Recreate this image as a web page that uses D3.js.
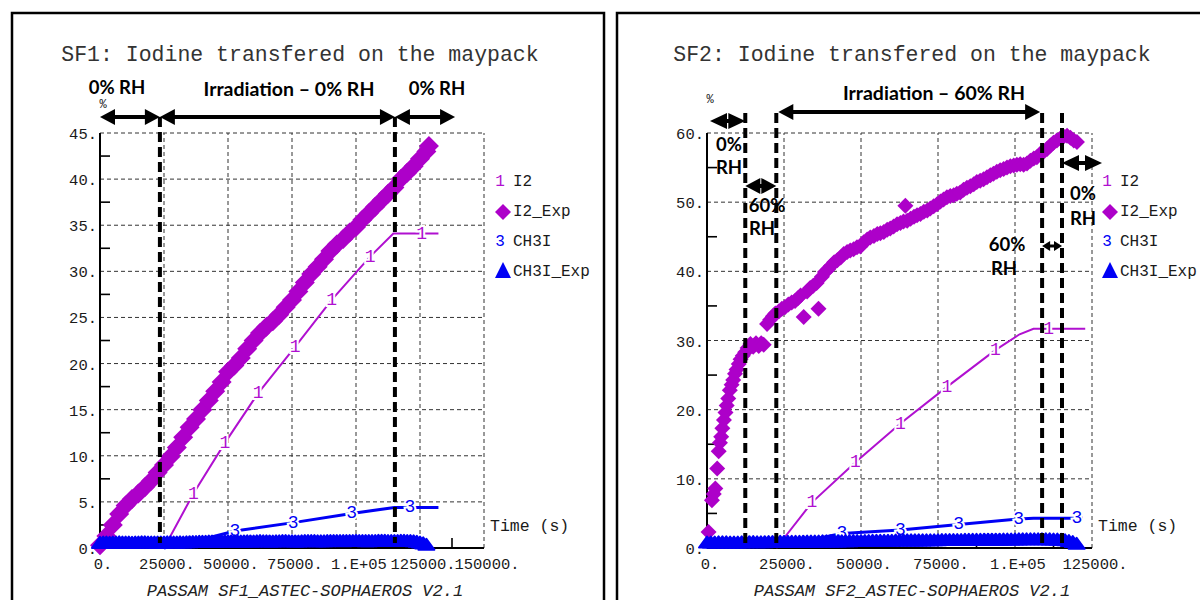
<!DOCTYPE html>
<html>
<head>
<meta charset="utf-8">
<script src="https://cdn.jsdelivr.net/npm/d3@7"></script>
<style>
  body { margin: 0; background: #fff; }
  svg { display: block; }
</style>
</head>
<body>
<div id="chart"></div>
<script>
const sf1XTicks = [0, 25000, 50000, 75000, 100000, 125000, 150000]
const sf1XLabels = ["0.", "25000.", "50000.", "75000.", "1.E+05", "125000.", "150000."]
const sf1YTicks = [0, 5, 10, 15, 20, 25, 30, 35, 40, 45]

const sf2XTicks = [0, 25000, 50000, 75000, 100000, 125000]
const sf2XLabels = ["0.", "25000.", "50000.", "75000.", "1.E+05", "125000."]
const sf2YTicks = [0, 10, 20, 30, 40, 50, 60]

const legendNames = ["I2", "I2_Exp", "CH3I", "CH3I_Exp"]

// SF1 computed curves  [time (s), %]
const sf1I2Model = [[25000, 0], [36500, 5.9], [48800, 11.4], [61800, 16.8], [76200, 21.8],
  [90500, 26.9], [105500, 31.6], [114600, 34.1], [132200, 34.1]]
const sf1I2Marks = [36500, 48800, 61800, 76200, 90500, 105500, 125600]
const sf1Ch3iModel = [[25000, 0], [43600, 1.2], [52700, 1.85], [75500, 2.75], [98300, 3.75],
  [115000, 4.4], [132200, 4.4]]
const sf1Ch3iMarks = [52700, 75500, 98300, 121100]

// SF1 measurements
const sf1I2Exp = [[0, 0.3], [2500, 1.3], [5000, 2.5], [7500, 3.7], [10000, 4.6], [12500, 5.3],
  [15000, 5.9], [17500, 6.6], [20000, 7.3], [22500, 8.2], [25000, 9.0], [27500, 9.9],
  [30000, 10.9], [32500, 12.0], [35000, 13.1], [37500, 14.0], [40000, 15.0], [42500, 16.0],
  [45000, 17.0], [47500, 18.0], [50000, 19.1], [52500, 19.8], [55000, 20.6], [57500, 21.6],
  [60000, 22.5], [62500, 23.3], [65000, 24.0], [67500, 24.6], [70000, 25.3], [72500, 26.1],
  [75000, 26.9], [77500, 27.8], [80000, 28.8], [82500, 29.7], [85000, 30.5], [87500, 31.3],
  [90000, 32.2], [92500, 32.9], [95000, 33.5], [97500, 34.2], [100000, 34.8], [102500, 35.6],
  [105000, 36.3], [107500, 37.0], [110000, 37.7], [112500, 38.4], [115000, 39.1], [117500, 40.0],
  [120000, 40.7], [122500, 41.4], [125000, 42.2], [127500, 43.0], [128500, 43.6]]
const sf1Ch3iExp = [[0, 0.55], [1250, 0.58], [2500, 0.6], [3750, 0.57], [5000, 0.58], [6250, 0.6],
  [7500, 0.62], [8750, 0.6], [10000, 0.6], [11250, 0.58], [12500, 0.57], [13750, 0.59],
  [15000, 0.6], [16250, 0.61], [17500, 0.62], [18750, 0.6], [20000, 0.6], [21250, 0.59],
  [22500, 0.58], [23750, 0.6], [25000, 0.6], [26250, 0.61], [27500, 0.62], [28750, 0.6],
  [30000, 0.6], [31250, 0.61], [32500, 0.6], [33750, 0.62], [35000, 0.63], [36250, 0.64],
  [37500, 0.65], [38750, 0.66], [40000, 0.66], [41250, 0.68], [42500, 0.7], [43750, 0.69],
  [45000, 0.68], [46250, 0.7], [47500, 0.7], [48750, 0.71], [50000, 0.72], [51250, 0.71],
  [52500, 0.7], [53750, 0.7], [55000, 0.7], [56250, 0.71], [57500, 0.72], [58750, 0.71],
  [60000, 0.7], [61250, 0.72], [62500, 0.74], [63750, 0.73], [65000, 0.72], [66250, 0.71],
  [67500, 0.7], [68750, 0.72], [70000, 0.73], [71250, 0.74], [72500, 0.75], [73750, 0.73],
  [75000, 0.72], [76250, 0.71], [77500, 0.7], [78750, 0.72], [80000, 0.74], [81250, 0.75],
  [82500, 0.75], [83750, 0.74], [85000, 0.73], [86250, 0.72], [87500, 0.72], [88750, 0.74],
  [90000, 0.75], [91250, 0.76], [92500, 0.76], [93750, 0.75], [95000, 0.74], [96250, 0.75],
  [97500, 0.75], [98750, 0.76], [100000, 0.77], [101250, 0.76], [102500, 0.75], [103750, 0.74],
  [105000, 0.74], [106250, 0.75], [107500, 0.76], [108750, 0.77], [110000, 0.78], [111250, 0.77],
  [112500, 0.76], [113750, 0.75], [115000, 0.75], [116250, 0.76], [117500, 0.77], [118750, 0.77],
  [120000, 0.76], [121250, 0.75], [122500, 0.72], [123750, 0.68], [125000, 0.6], [126250, 0.5],
  [127500, 0.35]]

// SF2 computed curves
const sf2I2Model = [[22500, 0], [34100, 6.6], [48200, 12.4], [62800, 18.0], [77900, 23.3],
  [93600, 28.6], [101500, 30.9], [106000, 31.7], [122800, 31.7]]
const sf2I2Marks = [34100, 48200, 62800, 77900, 93600, 110900]
const sf2Ch3iModel = [[22500, 0.2], [43800, 2.1], [62800, 2.6], [81700, 3.4], [101200, 4.2],
  [106000, 4.3], [122000, 4.3]]
const sf2Ch3iMarks = [43800, 62800, 81700, 101200, 120100]

// SF2 measurements
const sf2I2Exp = [[500, 2.3], [1600, 6.9], [2200, 7.8], [2700, 8.6], [3300, 11.5], [3800, 14.0],
  [4200, 15.2], [4600, 16.1], [5000, 17.3], [5500, 18.5], [6000, 19.6], [6400, 20.6],
  [6900, 21.6], [7400, 22.8], [8000, 23.6], [8500, 24.3], [9100, 25.2], [9600, 25.8],
  [10300, 26.6], [10900, 27.3], [11600, 27.8], [12400, 28.3], [13200, 28.9], [14100, 29.5],
  [15000, 29.1], [15900, 29.6], [16800, 29.2], [17600, 29.6], [18400, 29.4], [19500, 32.4],
  [20500, 33.0], [21400, 33.5], [22200, 33.9], [23300, 34.2], [24300, 34.6], [25300, 34.8],
  [26400, 35.2], [27500, 35.5], [28600, 35.7], [29500, 36.1], [30400, 36.5], [31400, 33.4],
  [32500, 37.1], [33500, 37.6], [34500, 37.9], [35600, 38.3], [36200, 34.6], [37300, 39.2],
  [38300, 39.9], [39300, 40.3], [40300, 40.8], [41300, 41.3], [42300, 41.6], [43400, 42.0],
  [44400, 42.5], [45500, 42.8], [46500, 43.0], [47600, 43.2], [48700, 43.5], [49800, 43.6],
  [50900, 44.2], [52000, 44.6], [53000, 44.9], [54200, 45.1], [55300, 45.4], [56300, 45.5],
  [57400, 45.7], [58500, 46.0], [59500, 46.2], [60600, 46.5], [61700, 46.8], [62800, 47.0],
  [63800, 47.2], [64400, 49.5], [65000, 47.3], [66100, 47.6], [67200, 47.9], [68200, 48.1],
  [69300, 48.3], [70400, 48.6], [71500, 48.8], [72500, 49.1], [73600, 49.4], [74700, 49.7],
  [75800, 50.1], [76800, 50.4], [77900, 50.7], [79000, 50.9], [80100, 51.0], [81100, 51.2],
  [82200, 51.4], [83300, 51.8], [84400, 52.1], [85500, 52.3], [86600, 52.6], [87600, 52.9],
  [88700, 53.1], [89800, 53.3], [90900, 53.6], [92000, 53.9], [93000, 54.1], [94100, 54.4],
  [95200, 54.6], [96300, 54.8], [97400, 55.0], [98500, 55.2], [99600, 55.3], [100600, 55.4],
  [101700, 55.5], [102800, 55.4], [103900, 55.6], [105000, 56.0], [106100, 56.3], [107100, 56.5],
  [108200, 57.0], [109300, 57.3], [110400, 57.7], [111500, 58.2], [112500, 58.6], [113600, 58.9],
  [114700, 59.2], [115800, 59.5], [116900, 59.6], [118000, 59.3], [119100, 58.9], [120100, 58.7]]
const sf2Ch3iExp = [[0, 0.8], [1250, 0.8], [2500, 0.8], [3750, 0.81], [5000, 0.82], [6250, 0.81],
  [7500, 0.8], [8750, 0.8], [10000, 0.8], [11250, 0.81], [12500, 0.82], [13750, 0.84],
  [15000, 0.85], [16250, 0.83], [17500, 0.82], [18750, 0.84], [20000, 0.85], [21250, 0.86],
  [22500, 0.88], [23750, 0.88], [25000, 0.88], [26250, 0.89], [27500, 0.9], [28750, 0.9],
  [30000, 0.9], [31250, 0.91], [32500, 0.92], [33750, 0.92], [35000, 0.92], [36250, 0.94],
  [37500, 0.95], [38750, 0.95], [40000, 0.95], [41250, 0.95], [42500, 0.95], [43750, 0.97],
  [45000, 0.98], [46250, 0.99], [47500, 1.0], [48750, 1.0], [50000, 1.0], [51250, 1.0],
  [52500, 1.0], [53750, 1.03], [55000, 1.05], [56250, 1.05], [57500, 1.05], [58750, 1.05],
  [60000, 1.05], [61250, 1.07], [62500, 1.08], [63750, 1.09], [65000, 1.1], [66250, 1.1],
  [67500, 1.1], [68750, 1.1], [70000, 1.1], [71250, 1.11], [72500, 1.12], [73750, 1.12],
  [75000, 1.12], [76250, 1.14], [77500, 1.15], [78750, 1.15], [80000, 1.15], [81250, 1.15],
  [82500, 1.15], [83750, 1.17], [85000, 1.18], [86250, 1.18], [87500, 1.18], [88750, 1.19],
  [90000, 1.2], [91250, 1.2], [92500, 1.2], [93750, 1.2], [95000, 1.2], [96250, 1.21],
  [97500, 1.22], [98750, 1.22], [100000, 1.22], [101250, 1.24], [102500, 1.25], [103750, 1.25],
  [105000, 1.25], [106250, 1.25], [107500, 1.25], [108750, 1.25], [110000, 1.25], [111250, 1.24],
  [112500, 1.22], [113750, 1.21], [115000, 1.2], [116250, 1.12], [117500, 1.0], [118750, 0.85],
  [120000, 0.6]]

// vertical phase boundaries (s)
const sf1Phases = [23400, 115200]
const sf2Phases = [12430, 22500, 108800, 115260]

// ---- drawing ----
const purple = "#ad00c9"
const purpleLine = "#b010d0"
const blue = "#0000f5"
const mono = "'Liberation Mono', 'DejaVu Sans Mono', monospace"
const bold = "Lato, 'Open Sans', sans-serif"

const svg = d3.select("#chart").append("svg")
  .attr("width", 1200)
  .attr("height", 600)
  .style("background", "#fff")

function valueAt(series, t) {
  for (let i = 1; i < series.length; i++) {
    if (t <= series[i][0]) {
      const a = series[i - 1], b = series[i]
      return a[1] + (b[1] - a[1]) * (t - a[0]) / (b[0] - a[0])
    }
  }
  return series[series.length - 1][1]
}

function arrow(g, xa, xb, y, head, half, sw) {
  g.append("line")
    .attr("x1", xa + head * 0.7).attr("x2", xb - head * 0.7)
    .attr("y1", y).attr("y2", y)
    .attr("stroke", "#000").attr("stroke-width", sw)
  g.append("path")
    .attr("d", `M${xa},${y}L${xa + head},${y - half}L${xa + head},${y + half}Z`)
    .attr("fill", "#000")
  g.append("path")
    .attr("d", `M${xb},${y}L${xb - head},${y - half}L${xb - head},${y + half}Z`)
    .attr("fill", "#000")
}

function boldText(g, txt, x, y, size) {
  g.append("text")
    .attr("x", x).attr("y", y)
    .attr("text-anchor", "middle")
    .style("font-family", bold)
    .style("font-weight", 700)
    .style("font-size", (size || 18.5) + "px")
    .text(txt)
}

function drawPanel(p) {
  const g = svg.append("g")

  g.append("rect")
    .attr("x", p.box[0]).attr("y", p.box[1])
    .attr("width", p.box[2]).attr("height", p.box[3])
    .attr("fill", "none").attr("stroke", "#000").attr("stroke-width", 2.5)

  const x = d3.scaleLinear().domain([0, p.xMax]).range([p.left, p.right])
  const y = d3.scaleLinear().domain([0, p.yMax]).range([548, 133])

  // grid
  const grid = g.append("g")
    .attr("stroke", "#333").attr("stroke-width", 1).attr("stroke-dasharray", "4,3")
  p.yTicks.slice(1).forEach(v => {
    grid.append("line").attr("x1", x(0)).attr("x2", x(p.xMax)).attr("y1", y(v)).attr("y2", y(v))
  })
  p.xTicks.slice(1).forEach(t => {
    grid.append("line").attr("x1", x(t)).attr("x2", x(t)).attr("y1", y(0)).attr("y2", y(p.yMax))
  })

  // axes
  g.append("line").attr("x1", x(0)).attr("x2", x(0)).attr("y1", y(0)).attr("y2", y(p.yMax))
    .attr("stroke", "#000").attr("stroke-width", 2)
  g.append("line").attr("x1", x(0)).attr("x2", x(p.xMax)).attr("y1", y(0)).attr("y2", y(0))
    .attr("stroke", "#000").attr("stroke-width", 2)
  const yStep = p.yTicks[1] - p.yTicks[0]
  p.yTicks.slice(0, -1).forEach(v => {
    g.append("line").attr("x1", x(0)).attr("x2", x(0) + 10)
      .attr("y1", y(v + yStep / 2)).attr("y2", y(v + yStep / 2))
      .attr("stroke", "#000").attr("stroke-width", 1.6)
  })
  p.xTicks.slice(0, -1).forEach(t => {
    g.append("line").attr("x1", x(t + 12500)).attr("x2", x(t + 12500))
      .attr("y1", y(0)).attr("y2", y(0) - 10)
      .attr("stroke", "#000").attr("stroke-width", 1.6)
  })

  // tick labels
  g.selectAll(".yl").data(p.yTicks).enter().append("text")
    .attr("x", x(0) - 3).attr("y", d => y(d) + 6)
    .attr("text-anchor", "end")
    .style("font-family", mono).style("font-size", "15.5px").attr("fill", "#1a1a1a")
    .text(d => d + ".")
  g.selectAll(".xl").data(p.xTicks).enter().append("text")
    .attr("x", d => x(d) + 3).attr("y", 569)
    .attr("text-anchor", "middle")
    .style("font-family", mono).style("font-size", "15.5px").attr("fill", "#1a1a1a")
    .text((d, i) => p.xLabels[i])

  g.append("text").attr("x", x(0) + 3).attr("y", p.pctY)
    .attr("text-anchor", "middle")
    .style("font-family", mono).style("font-size", "12px").attr("fill", "#1a1a1a").text("%")
  g.append("text").attr("x", x(p.xMax) + 6).attr("y", 531)
    .style("font-family", mono).style("font-size", "16.5px").attr("fill", "#1a1a1a").text("Time (s)")

  // computed curves
  const line = d3.line().x(d => x(d[0])).y(d => y(d[1]))
  g.append("path").datum(p.i2Model).attr("d", line)
    .attr("fill", "none").attr("stroke", purpleLine).attr("stroke-width", 2)
  g.append("path").datum(p.ch3iModel).attr("d", line)
    .attr("fill", "none").attr("stroke", blue).attr("stroke-width", 3)

  function marks(times, series, label, color) {
    g.selectAll(null).data(times).enter().append("text")
      .attr("x", d => x(d)).attr("y", d => y(valueAt(series, d)))
      .attr("text-anchor", "middle").attr("dominant-baseline", "central")
      .style("font-family", mono).style("font-size", "18px")
      .attr("fill", color)
      .attr("stroke", "#fff").attr("stroke-width", 4).style("paint-order", "stroke")
      .text(label)
  }
  marks(p.i2Marks, p.i2Model, "1", purpleLine)
  marks(p.ch3iMarks, p.ch3iModel, "3", blue)

  // measurements
  const h = p.dia
  g.selectAll(null).data(p.i2Exp).enter().append("path")
    .attr("d", `M0,${-h}L${h},0L0,${h}L${-h},0Z`)
    .attr("transform", d => `translate(${x(d[0])},${y(d[1])})`)
    .attr("fill", purple)
  g.selectAll(null).data(p.ch3iExp).enter().append("path")
    .attr("d", "M0,-6L8,5L-8,5Z")
    .attr("transform", d => `translate(${x(d[0])},${y(d[1])})`)
    .attr("fill", blue).attr("stroke", blue).attr("stroke-width", 2)
    .attr("stroke-linejoin", "round")

  // phase boundaries
  p.phases.forEach(t => {
    g.append("line").attr("x1", x(t)).attr("x2", x(t))
      .attr("y1", p.phaseTop).attr("y2", 543)
      .attr("stroke", "#000").attr("stroke-width", 4).attr("stroke-dasharray", "10,5")
  })

  p.notes(g, x)

  // legend
  const lx = p.legendX
  const lg = g.append("g").style("font-family", mono).style("font-size", "16px")
  lg.append("text").attr("x", lx).attr("y", 182).attr("dominant-baseline", "central")
    .attr("text-anchor", "middle").attr("fill", purpleLine).text("1")
  lg.append("path").attr("d", "M0,-8L8,0L0,8L-8,0Z")
    .attr("transform", `translate(${lx + 3},212)`).attr("fill", purple)
  lg.append("text").attr("x", lx).attr("y", 242).attr("dominant-baseline", "central")
    .attr("text-anchor", "middle").attr("fill", blue).text("3")
  lg.append("path").attr("d", "M0,-9L8,7L-8,7Z")
    .attr("transform", `translate(${lx + 3},271)`).attr("fill", blue)
  lg.selectAll(null).data(legendNames).enter().append("text")
    .attr("x", lx + 13).attr("y", (d, i) => 182 + i * 30)
    .attr("dominant-baseline", "central").attr("fill", "#1a1a1a")
    .text(d => d)

  // title and footer
  g.append("text").attr("x", p.center).attr("y", 61)
    .attr("text-anchor", "middle")
    .style("font-family", mono).style("font-size", "21.5px").attr("fill", "#333")
    .text(p.title)
  g.append("text").attr("x", p.footX).attr("y", 596)
    .attr("text-anchor", "middle")
    .style("font-family", mono).style("font-style", "italic").style("font-size", "17px")
    .attr("fill", "#222")
    .text(p.footer)
}

drawPanel({
  box: [12, 13, 592, 600], left: 100, right: 484, xMax: 150000, yMax: 45,
  xTicks: sf1XTicks, xLabels: sf1XLabels, yTicks: sf1YTicks,
  i2Model: sf1I2Model, i2Marks: sf1I2Marks, ch3iModel: sf1Ch3iModel, ch3iMarks: sf1Ch3iMarks,
  i2Exp: sf1I2Exp, ch3iExp: sf1Ch3iExp, dia: 10,
  phases: sf1Phases, phaseTop: 117, legendX: 500, center: 300, footX: 305, pctY: 108,
  title: "SF1: Iodine transfered on the maypack",
  footer: "PASSAM SF1_ASTEC-SOPHAEROS V2.1",
  notes: (g, x) => {
    arrow(g, x(0), x(sf1Phases[0]), 117, 15, 8, 4)
    arrow(g, x(sf1Phases[0]), x(sf1Phases[1]), 117, 15, 8, 4)
    arrow(g, x(sf1Phases[1]), x(138700), 117, 15, 8, 4)
    boldText(g, "0% RH", 117, 94)
    boldText(g, "Irradiation \u2013 0% RH", 289, 96, 19.5)
    boldText(g, "0% RH", 437, 95)
  }
})

drawPanel({
  box: [617, 13, 600, 600], left: 707, right: 1092, xMax: 125000, yMax: 60,
  xTicks: sf2XTicks, xLabels: sf2XLabels, yTicks: sf2YTicks,
  i2Model: sf2I2Model, i2Marks: sf2I2Marks, ch3iModel: sf2Ch3iModel, ch3iMarks: sf2Ch3iMarks,
  i2Exp: sf2I2Exp, ch3iExp: sf2Ch3iExp, dia: 8,
  phases: sf2Phases, phaseTop: 113, legendX: 1107, center: 912, footX: 912, pctY: 103,
  title: "SF2: Iodine transfered on the maypack",
  footer: "PASSAM SF2_ASTEC-SOPHAEROS V2.1",
  notes: (g, x) => {
    arrow(g, x(0) + 3, x(sf2Phases[0]), 121, 17, 8, 4)
    arrow(g, x(sf2Phases[0]), x(sf2Phases[1]), 186, 15, 8, 4)
    arrow(g, x(sf2Phases[1]) + 2, x(sf2Phases[2]) - 2, 112, 15, 8, 4)
    arrow(g, x(sf2Phases[2]), x(sf2Phases[3]), 246, 8, 5, 3)
    arrow(g, x(sf2Phases[3]), x(128250), 163, 17, 8, 4)
    boldText(g, "Irradiation \u2013 60% RH", 934, 100, 19.5)
    boldText(g, "0%", 729, 151)
    boldText(g, "RH", 729, 174)
    boldText(g, "60%", 767, 212)
    boldText(g, "RH", 762, 235)
    boldText(g, "60%", 1007, 251)
    boldText(g, "RH", 1004, 275)
    boldText(g, "0%", 1083, 200)
    boldText(g, "RH", 1083, 225)
  }
})
</script>
</body>
</html>
